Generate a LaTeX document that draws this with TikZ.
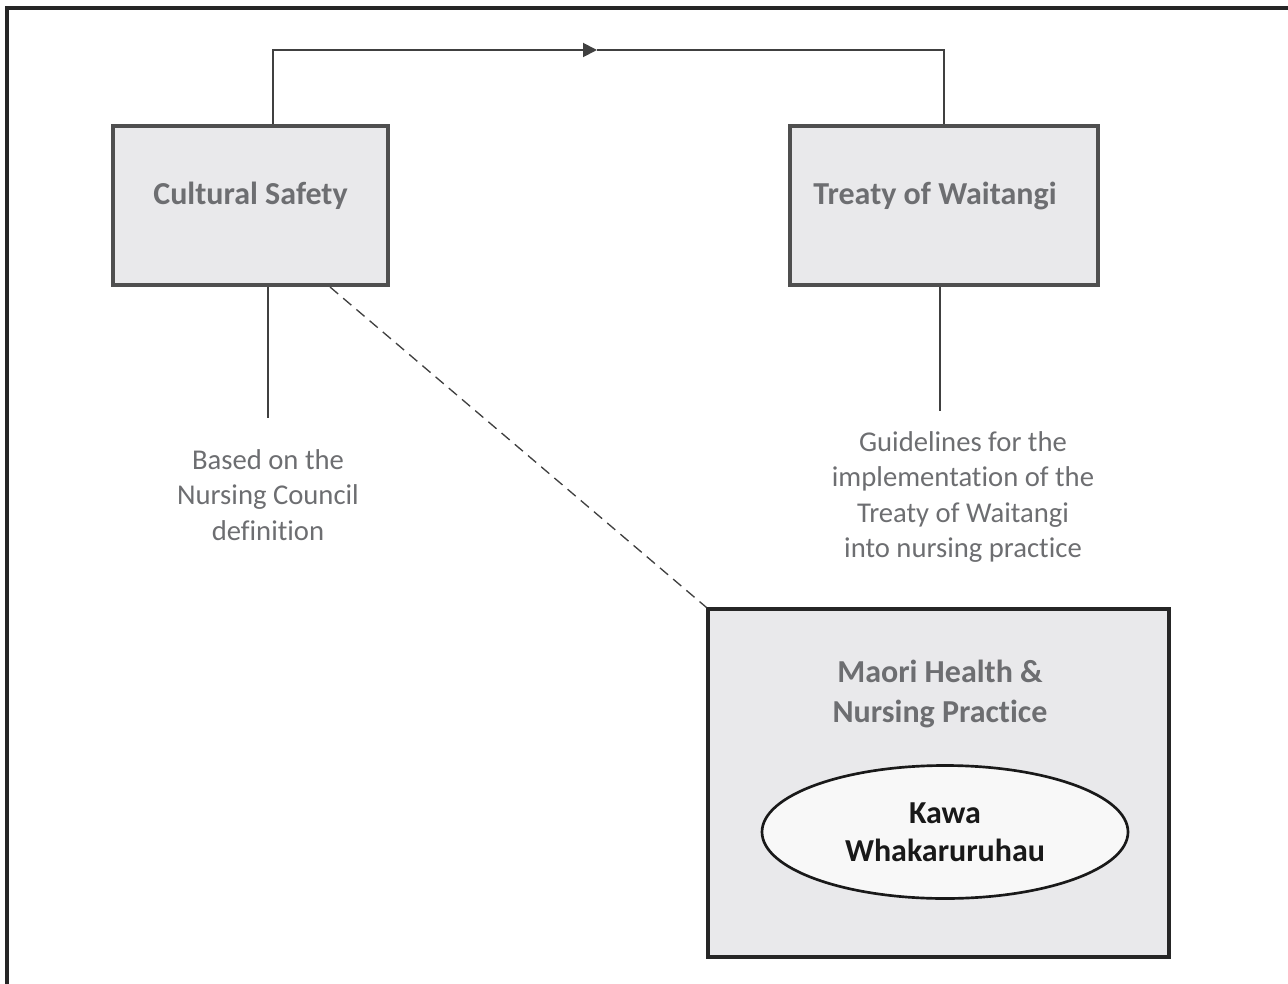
\documentclass[tikz,border=0pt]{standalone}
\usepackage{fontspec}
\setmainfont{Carlito}[Ligatures=NoCommon]
\usetikzlibrary{arrows.meta,shapes.geometric}
\definecolor{boxfill}{HTML}{E9E9EB}
\definecolor{boxline}{HTML}{4F4F4F}
\definecolor{txtgray}{HTML}{6D6E71}
\definecolor{linegray}{HTML}{404040}
\definecolor{ellfill}{HTML}{F8F8F8}
\begin{document}
\begin{tikzpicture}[x=0.75pt,y=-0.75pt,
  topbox/.style={draw=boxline,line width=2.3pt,fill=boxfill,rectangle,inner sep=0pt},
  title/.style={text=txtgray,font=\fontsize{24}{30}\selectfont\bfseries,align=center,inner sep=0pt},
  label/.style={text=txtgray,font=\fontsize{21.5}{26.5}\selectfont,align=center,inner sep=0pt},
  conn/.style={draw=linegray,line width=1.4pt}]
\useasboundingbox (0,0) rectangle (1288,984);
% outer frame (cut off at right and bottom)
\draw[line width=2.3pt,draw=black!85] (7,984) -- (7,8) -- (1288,8);
% boxes
\node[topbox,minimum width=275*0.75pt,minimum height=159*0.75pt] (cs) at (250.5,205.5) {};
\node[topbox,minimum width=308*0.75pt,minimum height=159*0.75pt] (tw) at (944,205.5) {};
\node[topbox,draw=black!85,minimum width=461*0.75pt,minimum height=348*0.75pt] (mh) at (938.5,783) {};
\node[title] (cst) at (250.5,196) {Cultural Safety};
\node[title] (twt) at (935,196) {Treaty of Waitangi};
\node[title] (mht) at (940,694) {Maori Health \&\\Nursing Practice};
\node[ellipse,draw=black!90,line width=2pt,fill=ellfill,minimum width=366*0.75pt,minimum height=133*0.75pt,
      font=\fontsize{24}{28.5}\selectfont\bfseries,text=black!90,align=center,inner sep=0pt] (kw) at (945,832) {Kawa\\Whakaruruhau};
% labels
\node[label] (csl) at (268,495) {Based on the\\Nursing Council\\definition};
\node[label] (twl) at (963,497) {Guidelines for the\\implementation of the\\Treaty of Waitangi\\into nursing practice};
% connectors
\coordinate (mid) at (597,50);
\coordinate (csend) at (268,418);
\coordinate (twend) at (940,411);
\draw[conn,-{Triangle[length=14pt*0.75,width=14pt*0.75]}] (cs.north-|273,0) |- (mid);
\draw[conn] (mid) -| (tw.north);
\draw[conn] (cs.south-|268,0) -- (csend);
\draw[conn] (tw.south-|940,0) -- (twend);
\draw[conn,dashed,dash pattern=on 8pt off 5pt,line width=1pt] (330,287) -- (mh.north west);
\end{tikzpicture}
\end{document}
